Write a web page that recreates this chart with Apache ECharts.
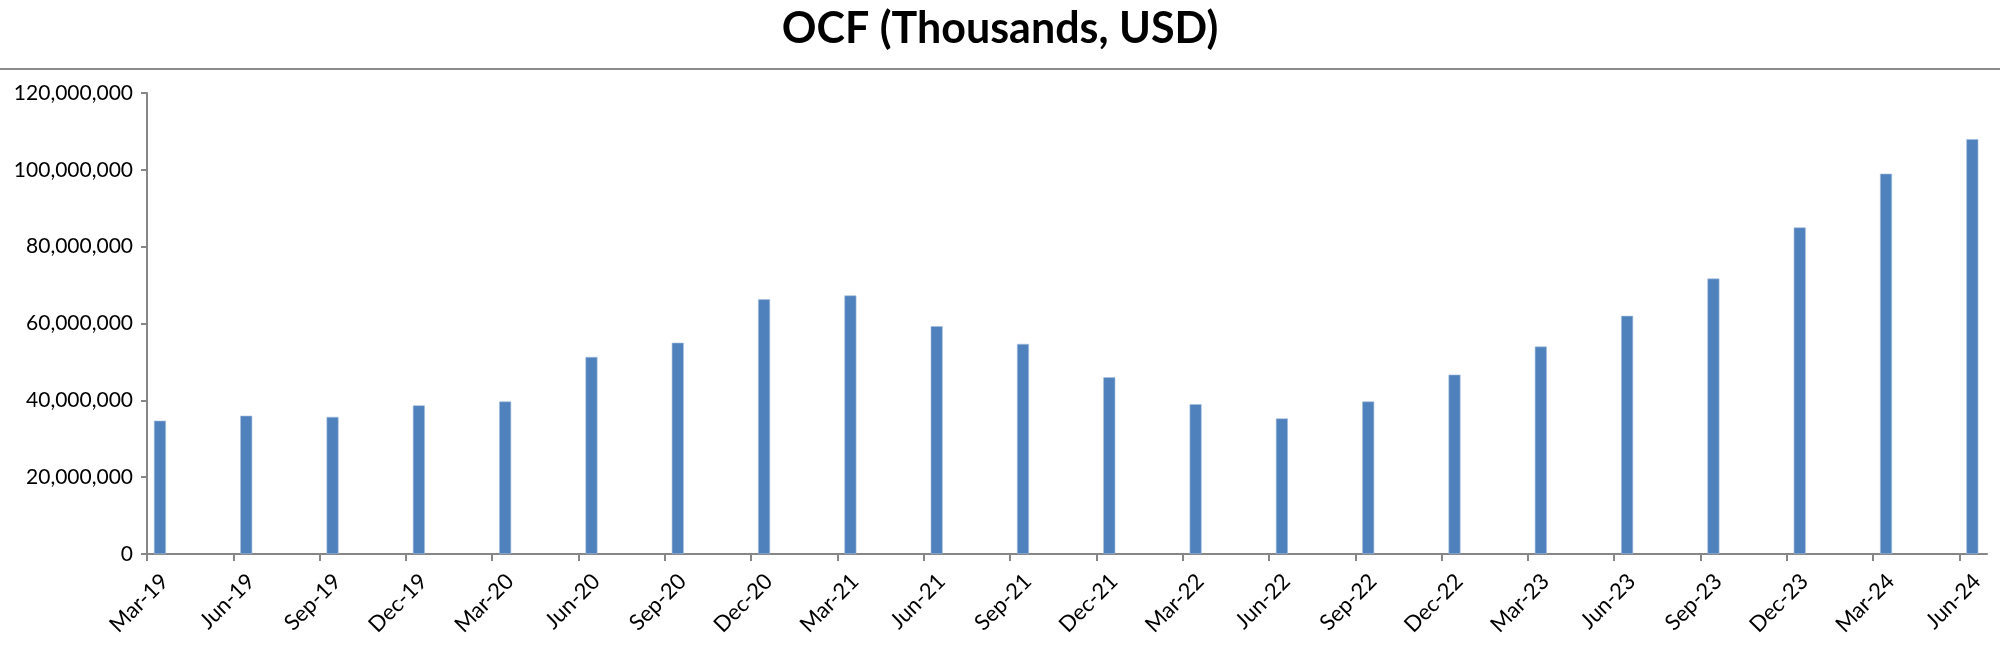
<!DOCTYPE html>
<html>
<head>
<meta charset="utf-8">
<script src="https://cdn.jsdelivr.net/npm/echarts@6/dist/echarts.min.js"></script>
<style>
html,body{margin:0;padding:0;background:#fff;}
#chart{width:2000px;height:645px;}
</style>
</head>
<body>
<div id="chart"></div>
<script>
const titleText = 'OCF (Thousands, USD)';
const categories = ['Mar-19','Jun-19','Sep-19','Dec-19','Mar-20','Jun-20','Sep-20','Dec-20','Mar-21','Jun-21','Sep-21','Dec-21','Mar-22','Jun-22','Sep-22','Dec-22','Mar-23','Jun-23','Sep-23','Dec-23','Mar-24','Jun-24'];
const ocfValues = [34700000,36000000,35700000,38700000,39700000,51300000,55000000,66300000,67300000,59300000,54700000,46000000,39000000,35300000,39700000,46700000,54000000,62000000,71700000,85000000,99000000,108000000];
const yTicks = {min: 0, max: 120000000, interval: 20000000};

// bars sit a little after the quarter tick (date axis in the original)
const BAR_SHIFT = 0.15;
const AXIS_TAIL = 0.32;

const fmt = v => Math.round(v).toString().replace(/\B(?=(\d{3})+(?!\d))/g, ',');

const chart = echarts.init(document.getElementById('chart'));
chart.setOption({
  animation: false,
  title: {
    text: titleText, left: 'center', top: 3,
    textStyle: {fontFamily: 'Lato', fontWeight: 'bold', fontSize: 43, color: '#000'}
  },
  graphic: [{
    type: 'line', shape: {x1: 0, y1: 69, x2: 2000, y2: 69},
    style: {stroke: '#8c8c8c', lineWidth: 2}
  }],
  grid: {left: 147, right: 13, top: 93, bottom: 91, containLabel: false},
  xAxis: {
    type: 'value', min: 0, max: categories.length - 1 + AXIS_TAIL, interval: 1,
    splitLine: {show: false},
    axisLine: {show: true, onZero: false, lineStyle: {color: '#868686', width: 2}},
    axisTick: {show: true, length: 7, lineStyle: {color: '#868686', width: 2}},
    axisLabel: {
      showMaxLabel: false, rotate: 45, margin: 6,
      verticalAlign: 'top', padding: [14, 0, 0, 0],
      fontFamily: 'Lato', fontSize: 22, color: '#000',
      formatter: v => (Number.isInteger(v) && categories[v]) ? categories[v] : ''
    }
  },
  yAxis: {
    type: 'value', min: yTicks.min, max: yTicks.max, interval: yTicks.interval,
    splitLine: {show: false},
    axisLine: {show: true, lineStyle: {color: '#868686', width: 2}},
    axisTick: {show: true, length: 6, lineStyle: {color: '#868686', width: 2}},
    axisLabel: {margin: 14, fontFamily: 'Lato', fontSize: 21, color: '#000', formatter: fmt}
  },
  series: [{
    type: 'bar',
    barWidth: 12,
    itemStyle: {color: '#4F81BD', borderColor: '#A7C0DE', borderWidth: 0.6},
    data: ocfValues.map((v, i) => [i + BAR_SHIFT, v])
  }]
});
</script>
</body>
</html>
